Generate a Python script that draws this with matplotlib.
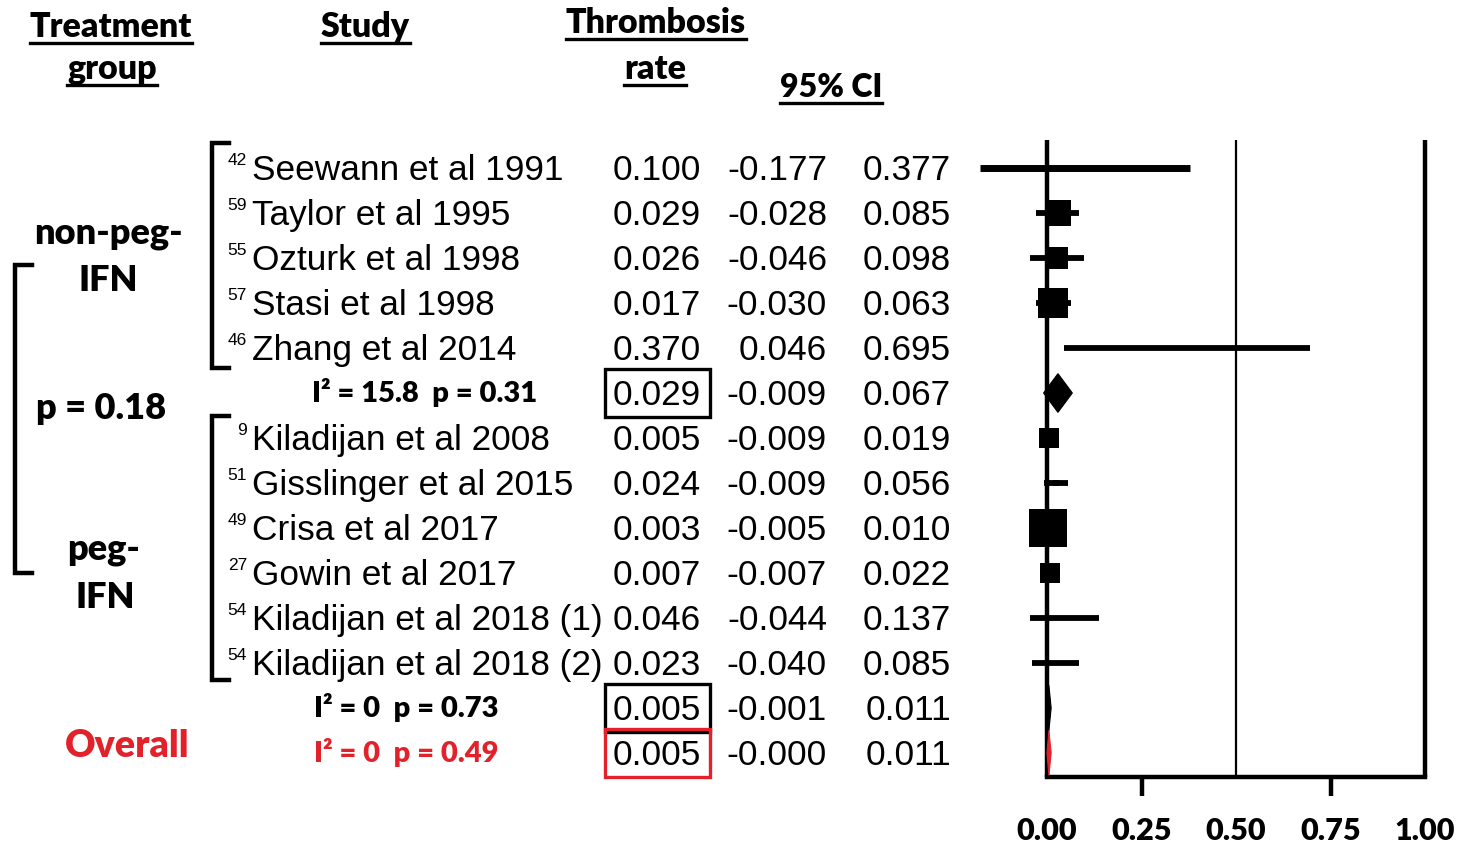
import matplotlib
matplotlib.use("Agg")
import matplotlib.pyplot as plt
import matplotlib.transforms as mtrans
from matplotlib.patches import Polygon, Rectangle
from matplotlib.lines import Line2D

# ---- data -------------------------------------------------------------
refs = ["42", "59", "55", "57", "46", "9", "51", "49", "27", "54", "54"]
studies = ["Seewann et al 1991", "Taylor et al 1995", "Ozturk et al 1998",
           "Stasi et al 1998", "Zhang et al 2014",
           "Kiladijan et al 2008", "Gisslinger et al 2015", "Crisa et al 2017",
           "Gowin et al 2017", "Kiladijan et al 2018 (1)", "Kiladijan et al 2018 (2)"]
rate = [0.100, 0.029, 0.026, 0.017, 0.370,
        0.005, 0.024, 0.003, 0.007, 0.046, 0.023]
ci_low = [-0.177, -0.028, -0.046, -0.030, 0.046,
          -0.009, -0.009, -0.005, -0.007, -0.044, -0.040]
ci_high = [0.377, 0.085, 0.098, 0.063, 0.695,
           0.019, 0.056, 0.010, 0.022, 0.137, 0.085]
study_weight = [0, 19, 16, 22, 0, 14, 4, 27, 14, 0, 0]   # square side (pt)
study_rows = [0, 1, 2, 3, 4, 6, 7, 8, 9, 10, 11]

pooled_labels = ["I\u00b2 = 15.8  p = 0.31", "I\u00b2 = 0  p = 0.73", "I\u00b2 = 0  p = 0.49"]
pooled_rate = [0.029, 0.005, 0.005]
pooled_low = [-0.009, -0.001, -0.0]
pooled_high = [0.067, 0.011, 0.011]
pooled_rows = [5, 12, 13]
pooled_colors = ["black", "black", "#e1222b"]

xticks_major = [0.25, 0.75]
xticks_minor = [0.00, 0.50, 1.00]

RED = "#e1222b"
W, H = 1463, 844

fig = plt.figure(figsize=(W / 100, H / 100), dpi=100)

# forest panel: x=0 at 1047 px, x=1 at 1425 px; rows 45 px apart from 168 px
unit = 378.0
x_left, x_right = -0.25, 1.05
row_top = (140 - 168) / 45.0
row_bot = (777 - 168) / 45.0
ax_l = 1047 + x_left * unit
ax_r = 1047 + x_right * unit
ax = fig.add_axes([ax_l / W, 1 - 777 / H, (ax_r - ax_l) / W, (777 - 140) / H])
ax.set_xlim(x_left, x_right)
ax.set_ylim(row_bot, row_top)
for s in ["top", "left", "right"]:
    ax.spines[s].set_visible(False)
ax.spines["bottom"].set_bounds(0, 1)
ax.spines["bottom"].set_linewidth(3.2)
ax.set_yticks([])
ax.patch.set_alpha(0)

bold = dict(family="Lato", weight="heavy")
tick_font = dict(size=22, **bold)
ax.set_xticks(xticks_major, labels=[f"{v:.2f}" for v in xticks_major], **tick_font)
ax.set_xticks(xticks_minor, labels=[f"{v:.2f}" for v in xticks_minor], minor=True, **tick_font)
ax.tick_params(axis="x", which="major", length=14, width=3.2, pad=15)
ax.tick_params(axis="x", which="minor", length=0, pad=29)

ax.axvline(0.0, color="black", lw=3.2, zorder=3)
ax.axvline(0.5, color="black", lw=1.6, zorder=1)
ax.axvline(1.0, color="black", lw=3.2, zorder=1)

# study confidence intervals and weight squares
for r, p, lo, hi, w in zip(study_rows, rate, ci_low, ci_high, study_weight):
    lw = 5 if r == 0 else 4.2
    ax.plot([lo, hi], [r, r], color="black", lw=lw, solid_capstyle="butt", zorder=2)
    if w > 0:
        ax.scatter([p], [r], marker="s", s=w ** 2, color="black", zorder=4, linewidths=0)

# pooled diamonds
for r, p, lo, hi, c in zip(pooled_rows, pooled_rate, pooled_low, pooled_high, pooled_colors):
    h = 0.43 if r == 5 else 0.5
    ax.add_patch(Polygon([(lo, r), (p, r - h), (hi, r), (p, r + h)], closed=True,
                         facecolor=c, edgecolor=c, lw=0.8, zorder=5))

# ---- text panel -------------------------------------------------------
pix = mtrans.Affine2D().scale(1 / W, -1 / H).translate(0, 1) + fig.transFigure
rowt = mtrans.blended_transform_factory(pix, ax.transData)

arial = dict(family="Liberation Sans", size=25.4)
base = 0.27


def value_cells(r, p, lo, hi):
    fig.text(701, r + base, f"{p:.3f}", transform=rowt, ha="right", va="baseline", **arial)
    fig.text(827, r + base, f"{lo:.3f}", transform=rowt, ha="right", va="baseline", **arial)
    fig.text(951, r + base, f"{hi:.3f}", transform=rowt, ha="right", va="baseline", **arial)


for r, ref, name, p, lo, hi in zip(study_rows, refs, studies, rate, ci_low, ci_high):
    fig.text(247, r - 0.06, ref, transform=rowt, ha="right", va="baseline",
             family="Liberation Sans", size=12.5)
    fig.text(252, r + base, name, transform=rowt, ha="left", va="baseline", **arial)
    value_cells(r, p, lo, hi)

pooled_x = [425, 406, 406]
for r, lab, p, lo, hi, c, px in zip(pooled_rows, pooled_labels, pooled_rate, pooled_low,
                                    pooled_high, pooled_colors, pooled_x):
    fig.text(px, r + 0.2, lab, transform=rowt, ha="center", va="baseline", color=c,
             size=21, **bold)
    value_cells(r, p, lo, hi)
    fig.add_artist(Rectangle((605, r - 0.53), 105, 1.06, transform=rowt, fill=False,
                             edgecolor=c, lw=2.4))

# column headers (underlined)
headers = [("Treatment", 111, 37, 24.5), ("group", 112, 79, 24.5), ("Study", 365, 37, 24.5),
           ("Thrombosis", 656, 33, 24.5), ("rate", 655, 79, 24.5), ("95% CI", 831, 97, 23)]
header_texts = []
for txt, x, y, fs in headers:
    t = fig.text(x, y, txt, transform=pix, ha="center", va="baseline", size=fs, **bold)
    header_texts.append((t, y))

# treatment group labels
fig.text(108, 244, "non-peg-", transform=pix, ha="center", va="baseline", size=26, **bold)
fig.text(108, 291, "IFN", transform=pix, ha="center", va="baseline", size=26, **bold)
fig.text(101, 419, "p = 0.18", transform=pix, ha="center", va="baseline", size=26, **bold)
fig.text(104, 560, "peg-", transform=pix, ha="center", va="baseline", size=26, **bold)
fig.text(105, 608, "IFN", transform=pix, ha="center", va="baseline", size=26, **bold)
fig.text(127, 757, "Overall", transform=pix, ha="center", va="baseline", size=27,
         color=RED, **bold)

# brackets
def bracket(x, y0, y1, hook, trans):
    fig.add_artist(Line2D([x + hook, x, x, x + hook], [y0, y0, y1, y1], transform=trans,
                          color="black", lw=3.2, solid_joinstyle="miter"))

bracket(15, 265, 573, 17, pix)
bracket(212, 143, 368, 17, pix)
bracket(212, 416, 680, 17, pix)

# underline headers using rendered extents
fig.canvas.draw()
renderer = fig.canvas.get_renderer()
for t, y in header_texts:
    bb = t.get_window_extent(renderer)
    fig.add_artist(Line2D([bb.x0, bb.x1], [y + 6, y + 6],
                          transform=mtrans.blended_transform_factory(
                              mtrans.IdentityTransform(), pix),
                          color="black", lw=2.4))

fig.savefig("out.png", dpi=100, facecolor="white")
